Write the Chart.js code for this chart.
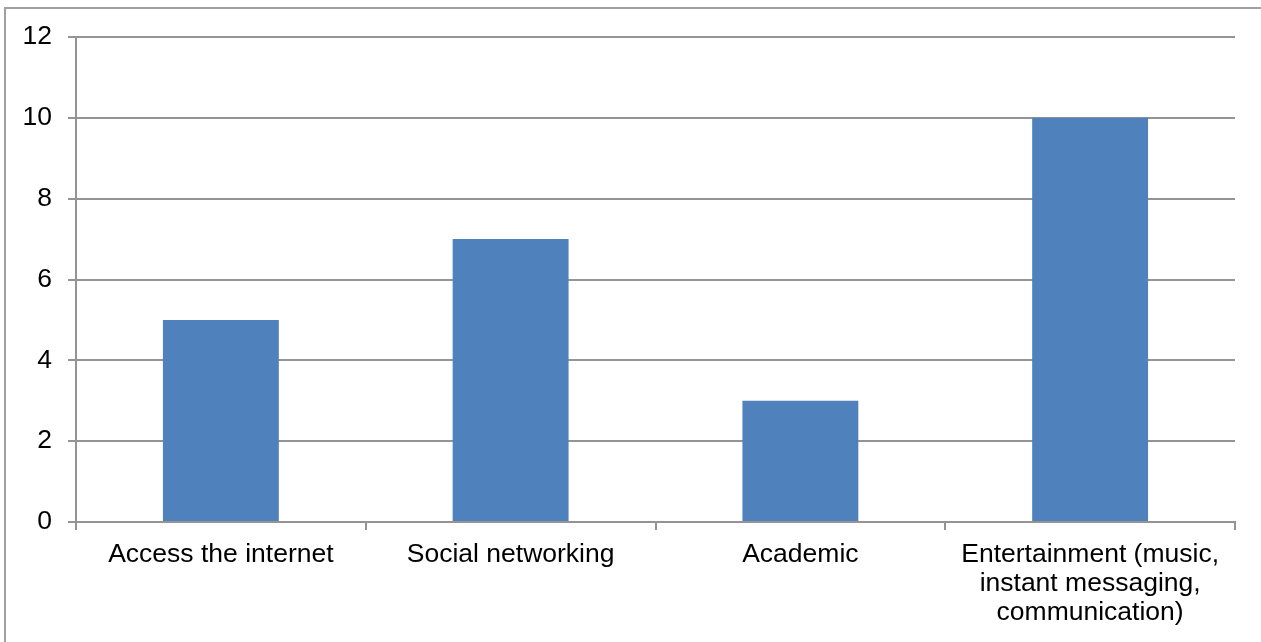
<!DOCTYPE html>
<html>
<head>
<meta charset="utf-8">
<script src="https://cdn.jsdelivr.net/npm/chart.js@4.4.1/dist/chart.umd.min.js"></script>
<style>
    html, body {
        margin: 0;
        padding: 0;
        background: #fff;
        overflow: hidden;
    }
    .wrap {
        position: relative;
        width: 1261px;
        height: 642px;
    }
    .frame {
        position: absolute;
        left: 4px;
        top: 7px;
        width: 1400px;
        height: 800px;
        border: 2px solid #a0a0a0;
        pointer-events: none;
    }
</style>
</head>
<body>
<div class="wrap">
    <canvas id="myChart"></canvas>
    <div class="frame"></div>
</div>
<script>
const categorias = [
    'Access the internet',
    'Social networking',
    'Academic',
    ['Entertainment (music,', 'instant messaging,', 'communication)']
];
const valores = [5, 7, 3, 10];
const yTicks = [0, 2, 4, 6, 8, 10, 12];

const corLinha = '#949494';
const fonte = { family: '"Liberation Sans", Arial, sans-serif', size: 26.5, lineHeight: 1.1 };

Chart.defaults.font.family = fonte.family;
Chart.defaults.color = '#000';

const ctx = document.getElementById('myChart');

new Chart(ctx, {
    type: 'bar',
    data: {
        labels: categorias,
        datasets: [
            {
                label: 'Uso',
                data: valores,
                backgroundColor: '#4f81bd',
                borderWidth: 0,
                barPercentage: 0.4,
                categoryPercentage: 1.0,
            },
        ]
    },
    options: {
        responsive: true,
        maintainAspectRatio: false,
        animation: false,
        layout: {
            padding: { left: 0, top: 37, right: 26, bottom: 0 }
        },
        plugins: {
            legend: { display: false },
            tooltip: { enabled: false }
        },
        scales: {
            x: {
                offset: true,
                grid: {
                    offset: true,
                    drawOnChartArea: false,
                    drawTicks: true,
                    tickLength: 8,
                    color: corLinha,
                    lineWidth: 2
                },
                border: { display: true, color: corLinha, width: 2 },
                ticks: {
                    font: fonte,
                    color: '#000',
                    padding: 10,
                    maxRotation: 0,
                    autoSkip: false
                },
                afterFit: (scale) => { scale.height = 120; }
            },
            y: {
                min: 0,
                max: 12,
                afterBuildTicks: (scale) => {
                    scale.ticks = yTicks.map(v => ({ value: v }));
                },
                grid: {
                    color: corLinha,
                    lineWidth: 2,
                    tickLength: 8
                },
                border: { display: true, color: corLinha, width: 2 },
                ticks: {
                    font: fonte,
                    color: '#000',
                    padding: 16
                },
                afterFit: (scale) => { scale.width = 76; }
            }
        }
    }
});
</script>
</body>
</html>
